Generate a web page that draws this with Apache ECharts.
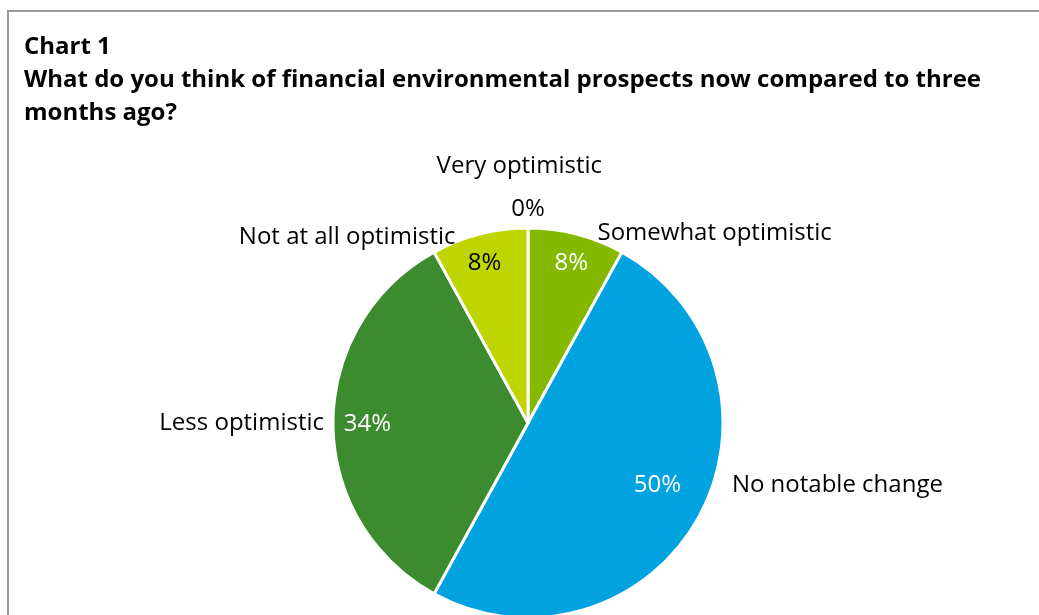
<!DOCTYPE html>
<html>
<head>
<meta charset="utf-8">
<script src="https://cdn.jsdelivr.net/npm/echarts@6/dist/echarts.min.js"></script>
<style>
  html, body { margin: 0; padding: 0; background: #fff; }
  #chart { width: 1039px; height: 615px; }
</style>
</head>
<body>
<div id="chart"></div>
<script>
// Survey answers, clockwise from the top of the pie
const categories = ['Very optimistic', 'Somewhat optimistic', 'No notable change', 'Less optimistic', 'Not at all optimistic'];
const shares = [0, 8, 50, 34, 8];
const sliceColors = ['#9fcf3a', '#84b900', '#00a3e0', '#3d8b2f', '#bed500'];
const percentColors = ['#000000', '#ffffff', '#ffffff', '#ffffff', '#000000'];

const FONT = '"Open Sans", "Noto Sans", sans-serif';
const CENTER = [528, 423];
const R = 195;

// Nudges for the percentage labels (pixels), per slice
const pctShift = [[0, -43], [1, 5], [-20, -20], [10, 1], [-1, 5]];
// Nudges for the category labels (pixels), per slice
const nameShift = [[95, -62], [0, -1], [12, -32], [12, 0], [-3, 3]];

const data = categories.map((name, i) => ({
  name: name,
  value: shares[i],
  itemStyle: { color: sliceColors[i] }
}));

const chart = echarts.init(document.getElementById('chart'), null, { renderer: 'canvas' });

chart.setOption({
  backgroundColor: '#ffffff',
  animation: false,
  title: {
    text: 'Chart 1\nWhat do you think of financial environmental prospects now compared to three\nmonths ago?',
    left: 19,
    top: 26,
    textStyle: {
      fontFamily: FONT,
      fontWeight: 'bold',
      fontSize: 24,
      lineHeight: 33,
      color: '#000'
    }
  },
  graphic: [{
    type: 'rect',
    silent: true,
    shape: { x: 8, y: 11, width: 1200, height: 800 },
    style: { fill: 'none', stroke: '#9a9a9a', lineWidth: 2 }
  }],
  series: [
    {
      // the pie itself, with category names outside
      type: 'pie',
      center: CENTER,
      radius: R,
      startAngle: 90,
      clockwise: true,
      avoidLabelOverlap: false,
      silent: true,
      data: data,
      itemStyle: { borderColor: '#ffffff', borderWidth: 3 },
      label: {
        show: true,
        position: 'outside',
        formatter: '{b}',
        fontFamily: FONT,
        fontSize: 24,
        color: '#000',
        distanceToLabelLine: 5
      },
      labelLine: { show: false, length: 0, length2: 16 },
      labelLayout: function (p) {
        const s = nameShift[p.dataIndex];
        return { dx: s[0], dy: s[1] };
      }
    },
    {
      // transparent ring carrying the percentage labels near the rim
      type: 'pie',
      center: CENTER,
      radius: [140, R],
      startAngle: 90,
      clockwise: true,
      avoidLabelOverlap: false,
      silent: true,
      data: data.map((d, i) => ({
        name: d.name,
        value: d.value,
        itemStyle: { color: 'rgba(0,0,0,0)' },
        label: { color: percentColors[i] }
      })),
      itemStyle: { borderWidth: 0 },
      label: {
        show: true,
        position: 'inside',
        formatter: '{c}%',
        fontFamily: FONT,
        fontSize: 24
      },
      labelLine: { show: false },
      labelLayout: function (p) {
        const s = pctShift[p.dataIndex];
        return { dx: s[0], dy: s[1] };
      }
    }
  ]
});
</script>
</body>
</html>
